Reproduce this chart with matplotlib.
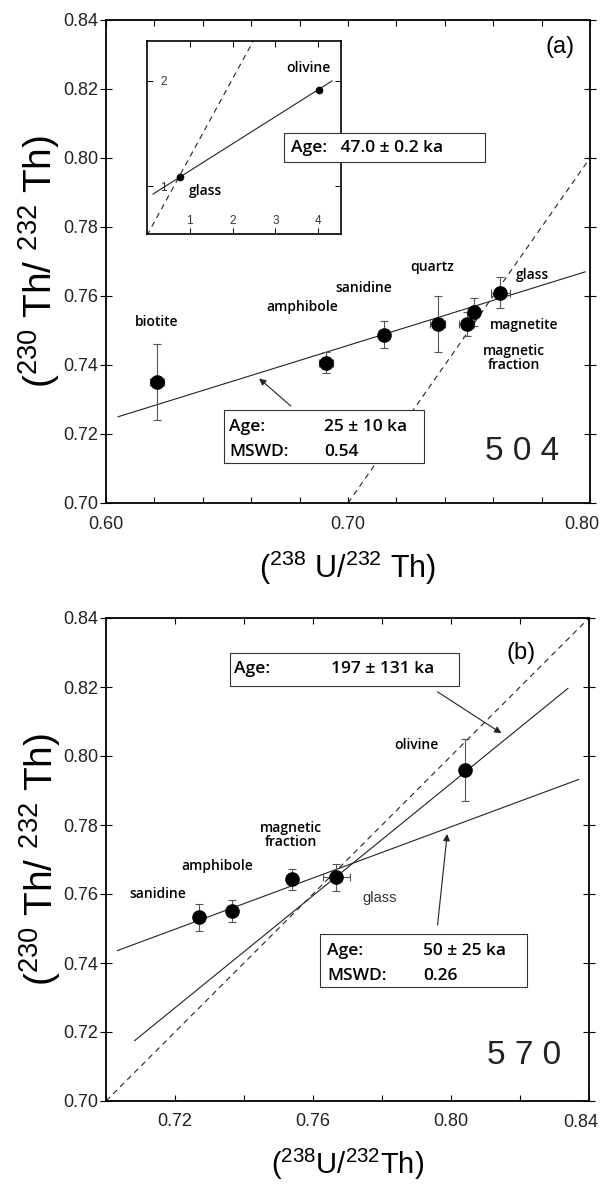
import numpy as np
import matplotlib
matplotlib.use("Agg")
import matplotlib.pyplot as plt
from matplotlib.patches import Rectangle
from matplotlib.ticker import MultipleLocator, FormatStrFormatter, FuncFormatter

plt.rcParams['font.family'] = ['Liberation Sans', 'DejaVu Sans']
plt.rcParams['mathtext.fontset'] = 'custom'
plt.rcParams['mathtext.rm'] = 'Liberation Sans'
plt.rcParams['mathtext.it'] = 'Liberation Sans:italic'
plt.rcParams['mathtext.bf'] = 'Liberation Sans:bold'

# --- 样品 504 ---
phases_504 = ['biotite', 'amphibole', 'sanidine', 'quartz',
              'magnetic fraction', 'magnetite', 'glass']
u_th_504 = [0.621, 0.691, 0.715, 0.737, 0.749, 0.752, 0.763]
u_th_err_504 = [0.003, 0.003, 0.001, 0.003, 0.003, 0.0015, 0.004]
th_th_504 = [0.7352, 0.7407, 0.7488, 0.7519, 0.7519, 0.7553, 0.7610]
th_th_err_504 = [0.011, 0.003, 0.0039, 0.008, 0.0034, 0.004, 0.0046]
fit_x_504 = [0.605, 0.798]
fit_y_504 = [0.725, 0.767]

# 插图：glass + olivine
inset_x = [0.78, 4.01]
inset_y = [1.088, 1.918]
inset_fit_x = [0.14, 4.32]
inset_fit_y = [0.924, 2.0]
inset_eq_x = [0.0, 2.48]
inset_eq_y = [0.53, 2.38]

# --- 样品 570 ---
phases_570 = ['sanidine', 'amphibole', 'magnetic fraction', 'glass', 'olivine']
u_th_570 = [0.7270, 0.7366, 0.7538, 0.7668, 0.8042]
u_th_err_570 = [0.0, 0.0, 0.0, 0.004, 0.0]
th_th_570 = [0.7532, 0.7550, 0.7643, 0.7648, 0.7959]
th_th_err_570 = [0.0039, 0.0032, 0.003, 0.004, 0.009]
fit1_x_570 = [0.7033, 0.837]   # 50 ka
fit1_y_570 = [0.7436, 0.7932]
fit2_x_570 = [0.7083, 0.8339]  # 197 ka
fit2_y_570 = [0.7175, 0.8196]

equiline = [0.70, 0.84]

lab = dict(family=['Open Sans', 'DejaVu Sans'], weight='semibold', size=10)
box = dict(family=['Open Sans', 'DejaVu Sans'], weight='semibold', size=12.5)
ylab = r'($^{230}$ Th/ $^{232}$ Th)'


def style_axes(ax, xmajor, xminor, xlim):
    ax.set_xlim(*xlim)
    ax.set_ylim(0.70, 0.84)
    ax.xaxis.set_major_locator(MultipleLocator(xmajor))
    ax.xaxis.set_minor_locator(MultipleLocator(xminor))
    # 最右端的标签单独画（往左挪一点，免得出界）
    xmax = xlim[1]
    ax.xaxis.set_major_formatter(
        FuncFormatter(lambda v, p: '' if abs(v - xmax) < 1e-6 else '%.2f' % v))
    ax.annotate('%.2f' % xmax, xy=(xmax, 0), xycoords=('data', 'axes fraction'),
                xytext=(-6, -9.5), textcoords='offset points', ha='center', va='top',
                fontsize=13, color='#222222', annotation_clip=False)
    ax.yaxis.set_major_locator(MultipleLocator(0.02))
    ax.yaxis.set_major_formatter(FormatStrFormatter('%.2f'))
    ax.tick_params(axis='x', which='both', direction='in', length=4.5, width=0.8,
                   top=True, labelsize=13, pad=9, labelcolor='#222222')
    ax.tick_params(axis='y', which='both', direction='inout', length=9, width=0.8,
                   right=True, labelsize=13, pad=1, labelcolor='#222222')
    for s in ax.spines.values():
        s.set_linewidth(1.3)


def draw_box(ax, x0, x1, y0, y1, transform=None):
    tr = transform if transform is not None else ax.transData
    ax.add_patch(Rectangle((x0, y0), x1 - x0, y1 - y0, transform=tr,
                           facecolor='white', edgecolor='#333333', lw=0.8,
                           zorder=6, clip_on=False))


def arrow(ax, head, tail):
    ax.annotate('', xy=head, xytext=tail,
                arrowprops=dict(arrowstyle='-|>', color='#222222', lw=0.8,
                                mutation_scale=10, shrinkA=0, shrinkB=0))


fig = plt.figure(figsize=(6.05, 11.84), dpi=100)

# ================= (a) 504 =================
ax1 = fig.add_axes([106 / 605, 1 - 503 / 1184, 484 / 605, 483 / 1184])
style_axes(ax1, 0.1, 0.02, (0.60, 0.80))
ax1.plot(equiline, equiline, ls=(0, (5, 4)), color='#222222', lw=0.8)
ax1.plot(fit_x_504, fit_y_504, color='#222222', lw=0.8)
ax1.errorbar(u_th_504, th_th_504, xerr=u_th_err_504, yerr=th_th_err_504,
             fmt='o', ms=9.5, color='black', ecolor='#555555', elinewidth=0.8,
             capsize=3, capthick=0.8, zorder=4)

ax1.text(0.6211, 0.7525, 'biotite', ha='center', va='center', **lab)
ax1.text(0.6810, 0.7568, 'amphibole', ha='center', va='center', **lab)
ax1.text(0.7066, 0.7623, 'sanidine', ha='center', va='center', **lab)
ax1.text(0.7347, 0.7684, 'quartz', ha='center', va='center', **lab)
ax1.text(0.7764, 0.7661, 'glass', ha='center', va='center', **lab)
ax1.text(0.7727, 0.7516, 'magnetite', ha='center', va='center', **lab)
ax1.text(0.7686, 0.7420, 'magnetic\nfraction', ha='center', va='center',
         linespacing=0.95, **lab)

draw_box(ax1, 0.6488, 0.7314, 0.7116, 0.7270)
ax1.text(0.6509, 0.7221, 'Age:', ha='left', va='center', zorder=7, **box)
ax1.text(0.6509, 0.7149, 'MSWD:', ha='left', va='center', zorder=7, **box)
ax1.text(0.6901, 0.7221, '25 ± 10 ka', ha='left', va='center', zorder=7, **box)
ax1.text(0.6901, 0.7149, '0.54', ha='left', va='center', zorder=7, **box)
arrow(ax1, (0.6633, 0.7361), (0.6764, 0.7281))

ax1.text(0.7876, 0.8322, '(a)', ha='center', va='center', size=17)
ax1.text(0.7719, 0.7148, '5 0 4', ha='center', va='center', size=24, color='#222222')

ax1.set_xlabel(r'($^{238}$ U/$^{232}$ Th)', fontsize=22)
ax1.xaxis.set_label_coords(0.5, -0.095)
ax1.set_ylabel(ylab, fontsize=28)
ax1.yaxis.set_label_coords(-0.09, 0.5)

# 插图
axi = fig.add_axes([147 / 605, 1 - 234 / 1184, 194 / 605, 193 / 1184])
axi.set_xlim(0, 4.53)
axi.set_ylim(0.544, 2.38)
axi.plot(inset_eq_x, inset_eq_y, ls=(0, (5, 4)), color='#222222', lw=0.8)
axi.plot(inset_fit_x, inset_fit_y, color='#222222', lw=0.8)
axi.plot(inset_x, inset_y, 'o', ms=4.5, color='black')
axi.set_xticks([1, 2, 3, 4])
axi.set_yticks([1, 2])
axi.tick_params(axis='x', direction='in', length=4, width=0.7, top=True,
                labelsize=8.5, pad=-14, labelcolor='#333333')
axi.tick_params(axis='y', direction='in', length=4, width=0.7, right=True,
                labelsize=8.5, pad=-14, labelcolor='#333333')
for s in axi.spines.values():
    s.set_linewidth(1.2)
axi.text(3.76, 2.12, 'olivine', ha='center', va='center', **lab)
axi.text(1.376, 0.953, 'glass', ha='center', va='center', **lab)

# 47.0 ka 的框压在插图上，用主图坐标画
draw_box(axi, 0.6736, 0.7566, 0.7988, 0.8072, transform=ax1.transData)
axi.text(0.6764, 0.8029, 'Age:   47.0 ± 0.2 ka', transform=ax1.transData,
         ha='left', va='center', zorder=7, clip_on=False, **box)

# ================= (b) 570 =================
ax2 = fig.add_axes([106 / 605, 1 - 1101 / 1184, 483 / 605, 483 / 1184])
style_axes(ax2, 0.04, 0.02, (0.70, 0.84))
ax2.plot(equiline, equiline, ls=(0, (5, 4)), color='#222222', lw=0.8)
ax2.plot(fit1_x_570, fit1_y_570, color='#222222', lw=0.8)
ax2.plot(fit2_x_570, fit2_y_570, color='#222222', lw=0.8)
ax2.errorbar(u_th_570, th_th_570, xerr=u_th_err_570, yerr=th_th_err_570,
             fmt='o', ms=9.5, color='black', ecolor='#555555', elinewidth=0.8,
             capsize=3, capthick=0.8, zorder=4)

ax2.text(0.7901, 0.8032, 'olivine', ha='center', va='center', **lab)
ax2.text(0.7535, 0.7771, 'magnetic\nfraction', ha='center', va='center',
         linespacing=0.95, **lab)
ax2.text(0.7323, 0.7681, 'amphibole', ha='center', va='center', **lab)
ax2.text(0.7151, 0.7600, 'sanidine', ha='center', va='center', **lab)
ax2.text(0.7792, 0.7588, 'glass', ha='center', va='center', size=10.5, color='#333333')

draw_box(ax2, 0.7358, 0.8023, 0.8203, 0.8299)
ax2.text(0.7372, 0.8252, 'Age:', ha='left', va='center', zorder=7, **box)
ax2.text(0.7651, 0.8252, '197 ± 131 ka', ha='left', va='center', zorder=7, **box)
arrow(ax2, (0.8146, 0.8066), (0.7961, 0.8186))

draw_box(ax2, 0.7620, 0.8219, 0.7331, 0.7483)
ax2.text(0.7642, 0.7436, 'Age:', ha='left', va='center', zorder=7, **box)
ax2.text(0.7642, 0.7362, 'MSWD:', ha='left', va='center', zorder=7, **box)
ax2.text(0.7919, 0.7436, '50 ± 25 ka', ha='left', va='center', zorder=7, **box)
ax2.text(0.7919, 0.7362, '0.26', ha='left', va='center', zorder=7, **box)
arrow(ax2, (0.7989, 0.7774), (0.7961, 0.7510))

ax2.text(0.8202, 0.8298, '(b)', ha='center', va='center', size=17)
ax2.text(0.8213, 0.7133, '5 7 0', ha='center', va='center', size=24, color='#222222')

ax2.set_xlabel(r'($^{238}$U/$^{232}$Th)', fontsize=21)
ax2.xaxis.set_label_coords(0.5, -0.094)
ax2.set_ylabel(ylab, fontsize=28)
ax2.yaxis.set_label_coords(-0.09, 0.5)

fig.savefig('out.png', dpi=100)
